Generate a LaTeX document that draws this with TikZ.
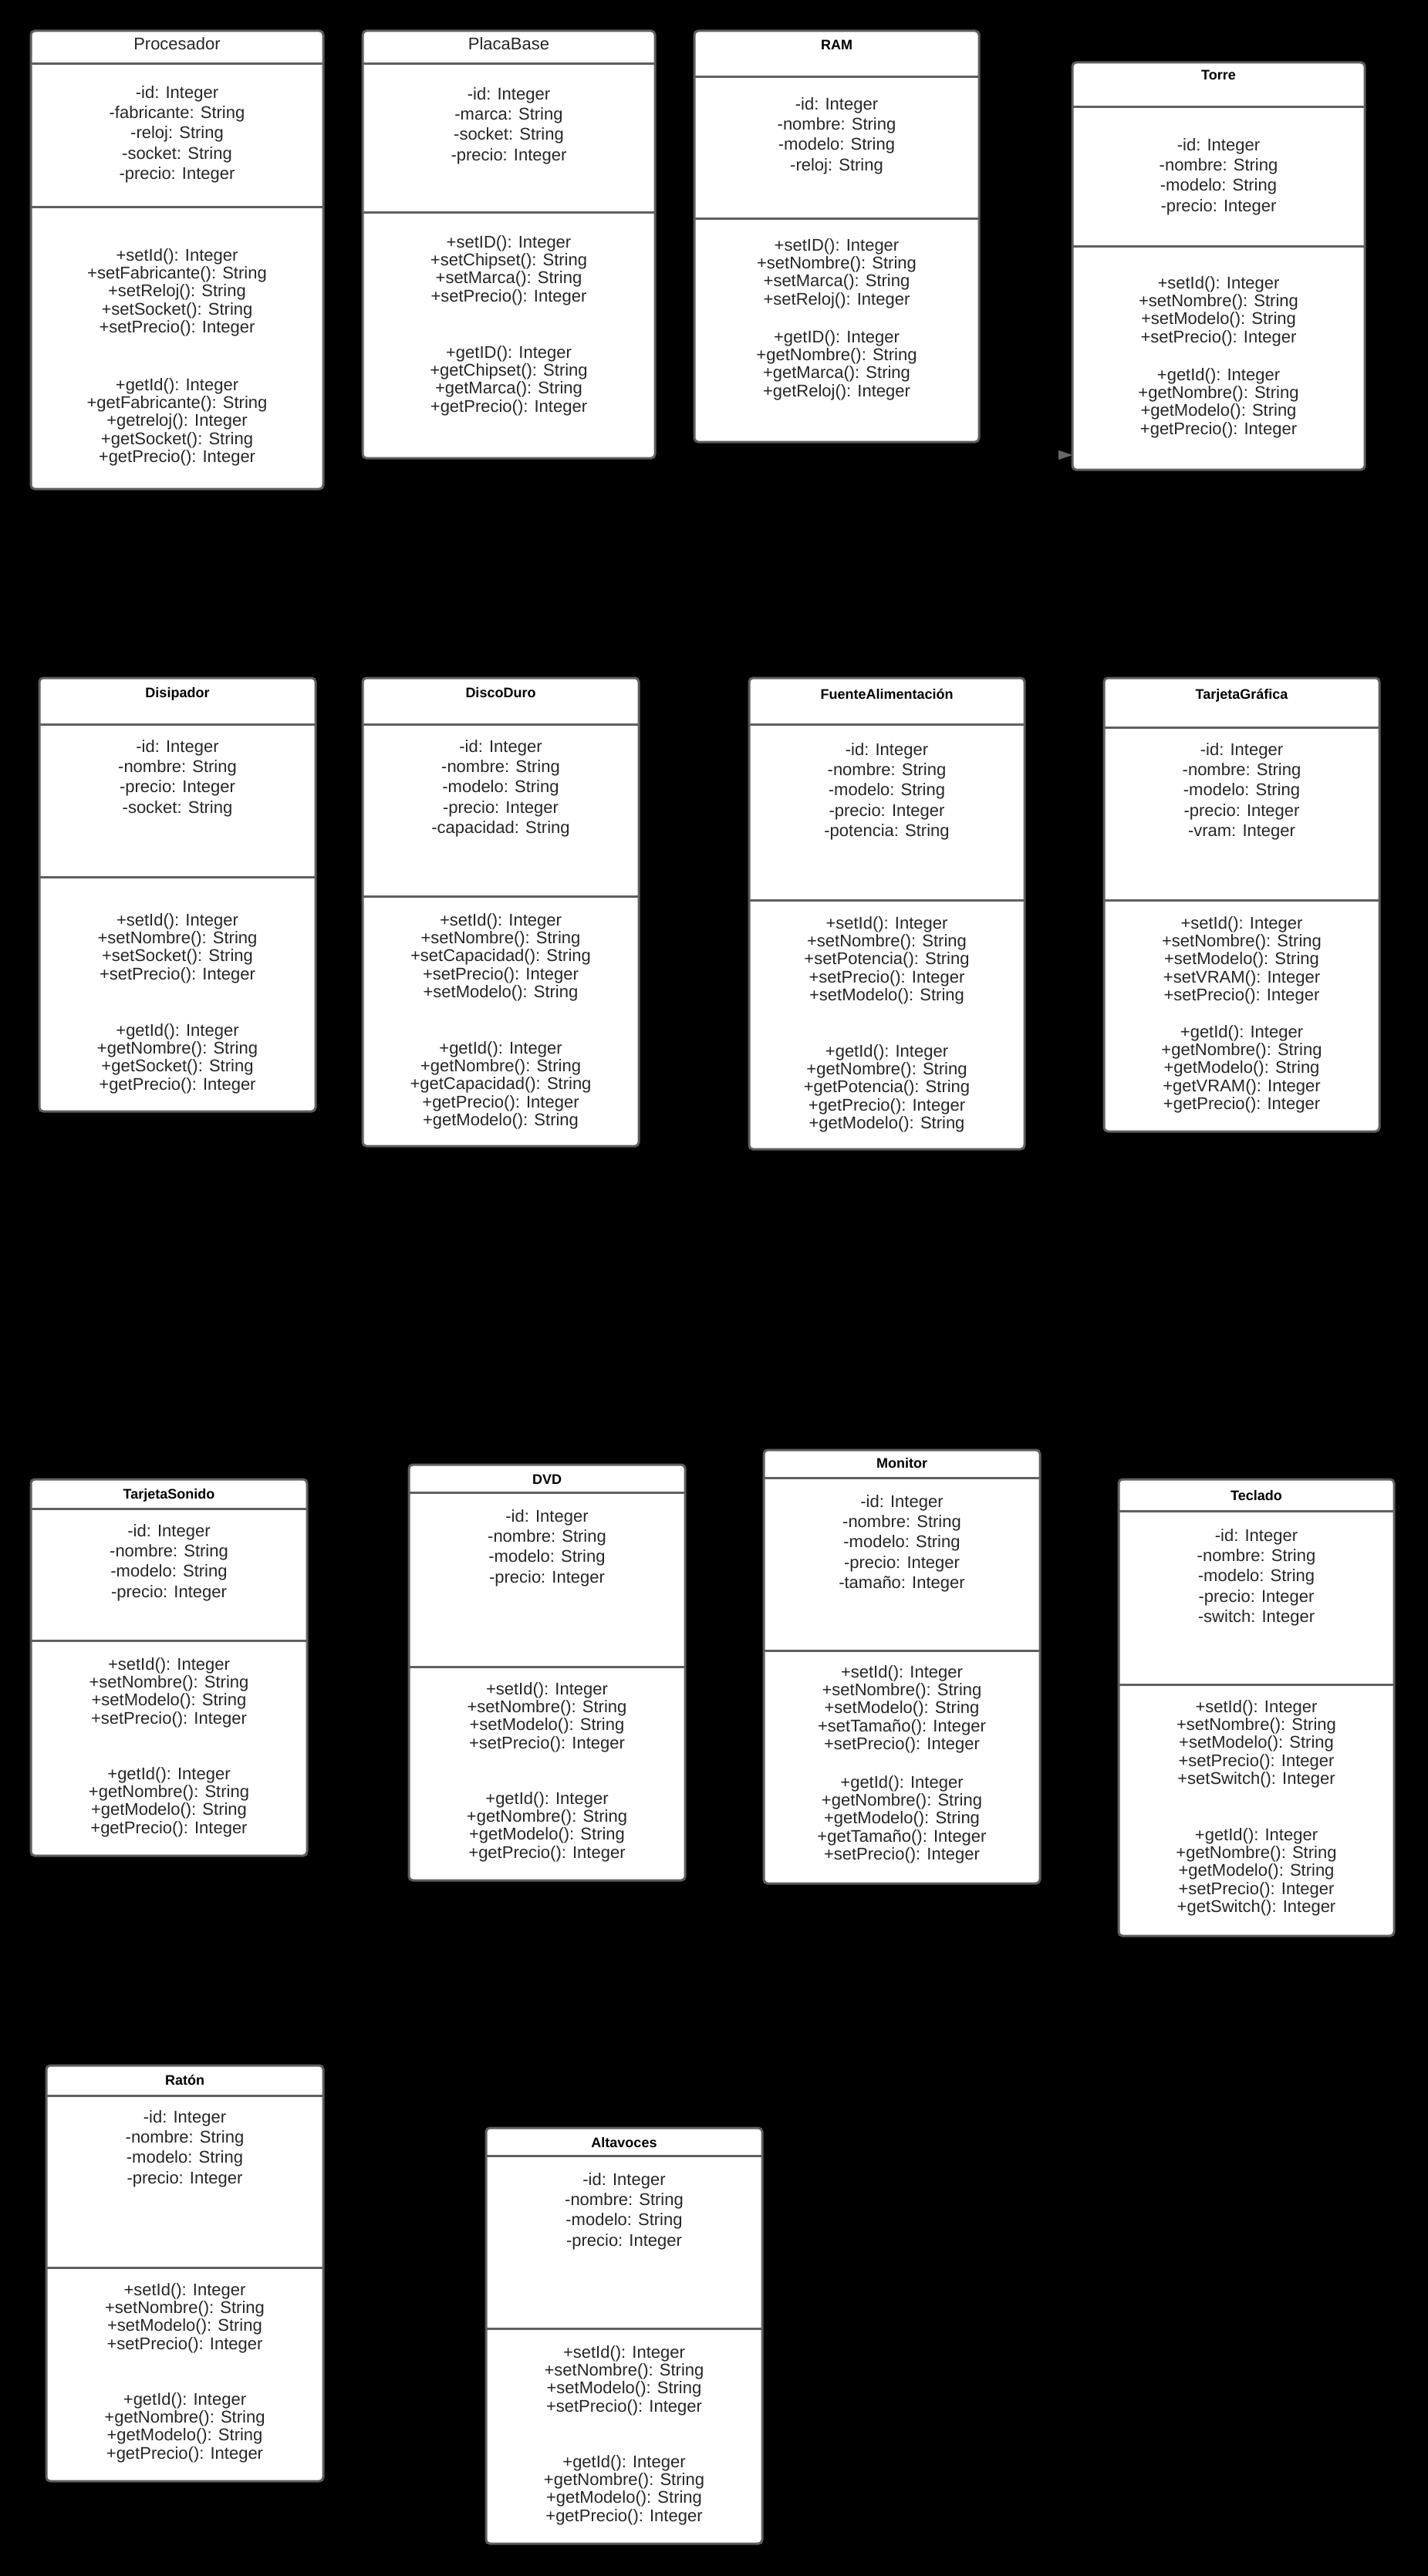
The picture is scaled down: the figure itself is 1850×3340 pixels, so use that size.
\documentclass[tikz,border=0pt]{standalone}
\usepackage{fontspec}
\setmainfont{Liberation Sans}
\usetikzlibrary{arrows.meta}
\definecolor{boxgray}{RGB}{95,95,95}
\definecolor{txtgray}{RGB}{38,38,38}
\definecolor{tipgray}{RGB}{105,105,105}
\tikzset{
  classbox/.style={draw=boxgray, line width=3pt, fill=white, rounded corners=5pt, inner sep=0pt, outer sep=0pt},
  sepline/.style={draw=boxgray, line width=3pt},
  titlereg/.style={font=\fontsize{22}{26}\selectfont, text=txtgray, inner sep=0pt, anchor=base},
  titlebold/.style={font=\fontsize{18}{22}\selectfont\bfseries, text=black, inner sep=0pt, anchor=base, yshift=-2pt},
  attrs/.style={font=\fontsize{22}{26.3}\selectfont, text=txtgray, align=center, inner sep=0pt, anchor=north},
  meths/.style={font=\fontsize{22}{23.4}\selectfont, text=txtgray, align=center, inner sep=0pt, anchor=north}
}
\begin{document}
\begin{tikzpicture}[x=1pt,y=-1pt]
    \useasboundingbox (0,0) rectangle (1850,3340);
    \fill[black] (-20,-20) rectangle (1870,3360);

    % Class boxes, use the tuple for the centre
    \begin{scope}[every node/.style={classbox}]
    \node[minimum width=379, minimum height=594] (Proc) at (229.5,337) {};
    \node[minimum width=379, minimum height=554] (Placa) at (659.5,317) {};
    \node[minimum width=369, minimum height=533] (Ram) at (1084.5,306.5) {};
    \node[minimum width=379, minimum height=528] (Torre) at (1579.5,345) {};

    \node[minimum width=358, minimum height=562] (Disip) at (230,1160) {};
    \node[minimum width=358, minimum height=607] (Disco) at (649,1182.5) {};
    \node[minimum width=357, minimum height=611] (Fuente) at (1149.5,1184.5) {};
    \node[minimum width=357, minimum height=588] (Grafica) at (1609.5,1173) {};

    \node[minimum width=358, minimum height=488] (Sonido) at (219,2162) {};
    \node[minimum width=358, minimum height=539] (Dvd) at (709,2168.5) {};
    \node[minimum width=358, minimum height=562] (Monitor) at (1169,2161) {};
    \node[minimum width=357, minimum height=592] (Teclado) at (1628.5,2214) {};

    \node[minimum width=359, minimum height=539] (Raton) at (239.5,2947.5) {};
    \node[minimum width=358, minimum height=539] (Altav) at (809,3028.5) {};
    \end{scope}

    % Compartment lines
    \draw[sepline] (Proc.west |- 0,83) -- (Proc.east |- 0,83);
    \draw[sepline] (Proc.west |- 0,268) -- (Proc.east |- 0,268);
    \draw[sepline] (Placa.west |- 0,83) -- (Placa.east |- 0,83);
    \draw[sepline] (Placa.west |- 0,275) -- (Placa.east |- 0,275);
    \draw[sepline] (Ram.west |- 0,100) -- (Ram.east |- 0,100);
    \draw[sepline] (Ram.west |- 0,283) -- (Ram.east |- 0,283);
    \draw[sepline] (Torre.west |- 0,139) -- (Torre.east |- 0,139);
    \draw[sepline] (Torre.west |- 0,319) -- (Torre.east |- 0,319);
    \draw[sepline] (Disip.west |- 0,939) -- (Disip.east |- 0,939);
    \draw[sepline] (Disip.west |- 0,1137) -- (Disip.east |- 0,1137);
    \draw[sepline] (Disco.west |- 0,939) -- (Disco.east |- 0,939);
    \draw[sepline] (Disco.west |- 0,1162) -- (Disco.east |- 0,1162);
    \draw[sepline] (Fuente.west |- 0,939) -- (Fuente.east |- 0,939);
    \draw[sepline] (Fuente.west |- 0,1167) -- (Fuente.east |- 0,1167);
    \draw[sepline] (Grafica.west |- 0,943) -- (Grafica.east |- 0,943);
    \draw[sepline] (Grafica.west |- 0,1167) -- (Grafica.east |- 0,1167);
    \draw[sepline] (Sonido.west |- 0,1956) -- (Sonido.east |- 0,1956);
    \draw[sepline] (Sonido.west |- 0,2127) -- (Sonido.east |- 0,2127);
    \draw[sepline] (Dvd.west |- 0,1935) -- (Dvd.east |- 0,1935);
    \draw[sepline] (Dvd.west |- 0,2161) -- (Dvd.east |- 0,2161);
    \draw[sepline] (Monitor.west |- 0,1916) -- (Monitor.east |- 0,1916);
    \draw[sepline] (Monitor.west |- 0,2140) -- (Monitor.east |- 0,2140);
    \draw[sepline] (Teclado.west |- 0,1959) -- (Teclado.east |- 0,1959);
    \draw[sepline] (Teclado.west |- 0,2184) -- (Teclado.east |- 0,2184);
    \draw[sepline] (Raton.west |- 0,2717) -- (Raton.east |- 0,2717);
    \draw[sepline] (Raton.west |- 0,2940) -- (Raton.east |- 0,2940);
    \draw[sepline] (Altav.west |- 0,2795) -- (Altav.east |- 0,2795);
    \draw[sepline] (Altav.west |- 0,3019) -- (Altav.east |- 0,3019);

    % Procesador
    \node[titlereg] (ProcT) at (229.5,65) {Procesador};
    \node[attrs] (ProcA) at (229.5,111) {-id: Integer\\-fabricante: String\\-reloj: String\\-socket: String\\-precio: Integer};
    \node[meths] (ProcS) at (229.5,322) {+setId(): Integer\\+setFabricante(): String\\+setReloj(): String\\+setSocket(): String\\+setPrecio(): Integer};
    \node[meths] (ProcG) at (229.5,490) {+getId(): Integer\\+getFabricante(): String\\+getreloj(): Integer\\+getSocket(): String\\+getPrecio(): Integer};

    % PlacaBase
    \node[titlereg] (PlacaT) at (659.5,65) {PlacaBase};
    \node[attrs] (PlacaA) at (659.5,113) {-id: Integer\\-marca: String\\-socket: String\\-precio: Integer};
    \node[meths] (PlacaS) at (659.5,305) {+setID(): Integer\\+setChipset(): String\\+setMarca(): String\\+setPrecio(): Integer};
    \node[meths] (PlacaG) at (659.5,448) {+getID(): Integer\\+getChipset(): String\\+getMarca(): String\\+getPrecio(): Integer};

    % RAM
    \node[titlebold] (RamT) at (1084.5,63) {RAM};
    \node[attrs] (RamA) at (1084.5,126) {-id: Integer\\-nombre: String\\-modelo: String\\-reloj: String};
    \node[meths] (RamS) at (1084.5,309) {+setID(): Integer\\+setNombre(): String\\+setMarca(): String\\+setReloj(): Integer};
    \node[meths] (RamG) at (1084.5,428) {+getID(): Integer\\+getNombre(): String\\+getMarca(): String\\+getReloj(): Integer};

    % Torre
    \node[titlebold] (TorreT) at (1579.5,102) {Torre};
    \node[attrs] (TorreA) at (1579.5,179) {-id: Integer\\-nombre: String\\-modelo: String\\-precio: Integer};
    \node[meths] (TorreS) at (1579.5,358) {+setId(): Integer\\+setNombre(): String\\+setModelo(): String\\+setPrecio(): Integer};
    \node[meths] (TorreG) at (1579.5,477) {+getId(): Integer\\+getNombre(): String\\+getModelo(): String\\+getPrecio(): Integer};

    % Disipador
    \node[titlebold] (DisipT) at (230,902) {Disipador};
    \node[attrs] (DisipA) at (230,959) {-id: Integer\\-nombre: String\\-precio: Integer\\-socket: String};
    \node[meths] (DisipS) at (230,1184) {+setId(): Integer\\+setNombre(): String\\+setSocket(): String\\+setPrecio(): Integer};
    \node[meths] (DisipG) at (230,1327) {+getId(): Integer\\+getNombre(): String\\+getSocket(): String\\+getPrecio(): Integer};

    % DiscoDuro
    \node[titlebold] (DiscoT) at (649,902) {DiscoDuro};
    \node[attrs] (DiscoA) at (649,959) {-id: Integer\\-nombre: String\\-modelo: String\\-precio: Integer\\-capacidad: String};
    \node[meths] (DiscoS) at (649,1184) {+setId(): Integer\\+setNombre(): String\\+setCapacidad(): String\\+setPrecio(): Integer\\+setModelo(): String};
    \node[meths] (DiscoG) at (649,1350) {+getId(): Integer\\+getNombre(): String\\+getCapacidad(): String\\+getPrecio(): Integer\\+getModelo(): String};

    % FuenteAlimentacion
    \node[titlebold] (FuenteT) at (1149.5,904) {FuenteAlimentación};
    \node[attrs] (FuenteA) at (1149.5,963) {-id: Integer\\-nombre: String\\-modelo: String\\-precio: Integer\\-potencia: String};
    \node[meths] (FuenteS) at (1149.5,1188) {+setId(): Integer\\+setNombre(): String\\+setPotencia(): String\\+setPrecio(): Integer\\+setModelo(): String};
    \node[meths] (FuenteG) at (1149.5,1354) {+getId(): Integer\\+getNombre(): String\\+getPotencia(): String\\+getPrecio(): Integer\\+getModelo(): String};

    % TarjetaGrafica
    \node[titlebold] (GraficaT) at (1609.5,904) {TarjetaGráfica};
    \node[attrs] (GraficaA) at (1609.5,963) {-id: Integer\\-nombre: String\\-modelo: String\\-precio: Integer\\-vram: Integer};
    \node[meths] (GraficaS) at (1609.5,1188) {+setId(): Integer\\+setNombre(): String\\+setModelo(): String\\+setVRAM(): Integer\\+setPrecio(): Integer};
    \node[meths] (GraficaG) at (1609.5,1329) {+getId(): Integer\\+getNombre(): String\\+getModelo(): String\\+getVRAM(): Integer\\+getPrecio(): Integer};

    % TarjetaSonido
    \node[titlebold] (SonidoT) at (219,1941) {TarjetaSonido};
    \node[attrs] (SonidoA) at (219,1976) {-id: Integer\\-nombre: String\\-modelo: String\\-precio: Integer};
    \node[meths] (SonidoS) at (219,2149) {+setId(): Integer\\+setNombre(): String\\+setModelo(): String\\+setPrecio(): Integer};
    \node[meths] (SonidoG) at (219,2291) {+getId(): Integer\\+getNombre(): String\\+getModelo(): String\\+getPrecio(): Integer};

    % DVD
    \node[titlebold] (DvdT) at (709,1922) {DVD};
    \node[attrs] (DvdA) at (709,1957) {-id: Integer\\-nombre: String\\-modelo: String\\-precio: Integer};
    \node[meths] (DvdS) at (709,2181) {+setId(): Integer\\+setNombre(): String\\+setModelo(): String\\+setPrecio(): Integer};
    \node[meths] (DvdG) at (709,2323) {+getId(): Integer\\+getNombre(): String\\+getModelo(): String\\+getPrecio(): Integer};

    % Monitor
    \node[titlebold] (MonitorT) at (1169,1901) {Monitor};
    \node[attrs] (MonitorA) at (1169,1938) {-id: Integer\\-nombre: String\\-modelo: String\\-precio: Integer\\-tamaño: Integer};
    \node[meths] (MonitorS) at (1169,2159) {+setId(): Integer\\+setNombre(): String\\+setModelo(): String\\+setTamaño(): Integer\\+setPrecio(): Integer};
    \node[meths] (MonitorG) at (1169,2302) {+getId(): Integer\\+getNombre(): String\\+getModelo(): String\\+getTamaño(): Integer\\+setPrecio(): Integer};

    % Teclado
    \node[titlebold] (TecladoT) at (1628.5,1943) {Teclado};
    \node[attrs] (TecladoA) at (1628.5,1982) {-id: Integer\\-nombre: String\\-modelo: String\\-precio: Integer\\-switch: Integer};
    \node[meths] (TecladoS) at (1628.5,2204) {+setId(): Integer\\+setNombre(): String\\+setModelo(): String\\+setPrecio(): Integer\\+setSwitch(): Integer};
    \node[meths] (TecladoG) at (1628.5,2370) {+getId(): Integer\\+getNombre(): String\\+getModelo(): String\\+setPrecio(): Integer\\+getSwitch(): Integer};

    % Raton
    \node[titlebold] (RatonT) at (239.5,2701) {Ratón};
    \node[attrs] (RatonA) at (239.5,2736) {-id: Integer\\-nombre: String\\-modelo: String\\-precio: Integer};
    \node[meths] (RatonS) at (239.5,2960) {+setId(): Integer\\+setNombre(): String\\+setModelo(): String\\+setPrecio(): Integer};
    \node[meths] (RatonG) at (239.5,3102) {+getId(): Integer\\+getNombre(): String\\+getModelo(): String\\+getPrecio(): Integer};

    % Altavoces
    \node[titlebold] (AltavT) at (809,2782) {Altavoces};
    \node[attrs] (AltavA) at (809,2817) {-id: Integer\\-nombre: String\\-modelo: String\\-precio: Integer};
    \node[meths] (AltavS) at (809,3041) {+setId(): Integer\\+setNombre(): String\\+setModelo(): String\\+setPrecio(): Integer};
    \node[meths] (AltavG) at (809,3183) {+getId(): Integer\\+getNombre(): String\\+getModelo(): String\\+getPrecio(): Integer};

    % Loose connector into Torre
    \coordinate (TorreIn) at (1368,590);
    \draw[-{Triangle[length=18pt, width=12pt, color=tipgray]}, draw=black, line width=1pt] (TorreIn) -- (Torre.west |- TorreIn);

\end{tikzpicture}
\end{document}
